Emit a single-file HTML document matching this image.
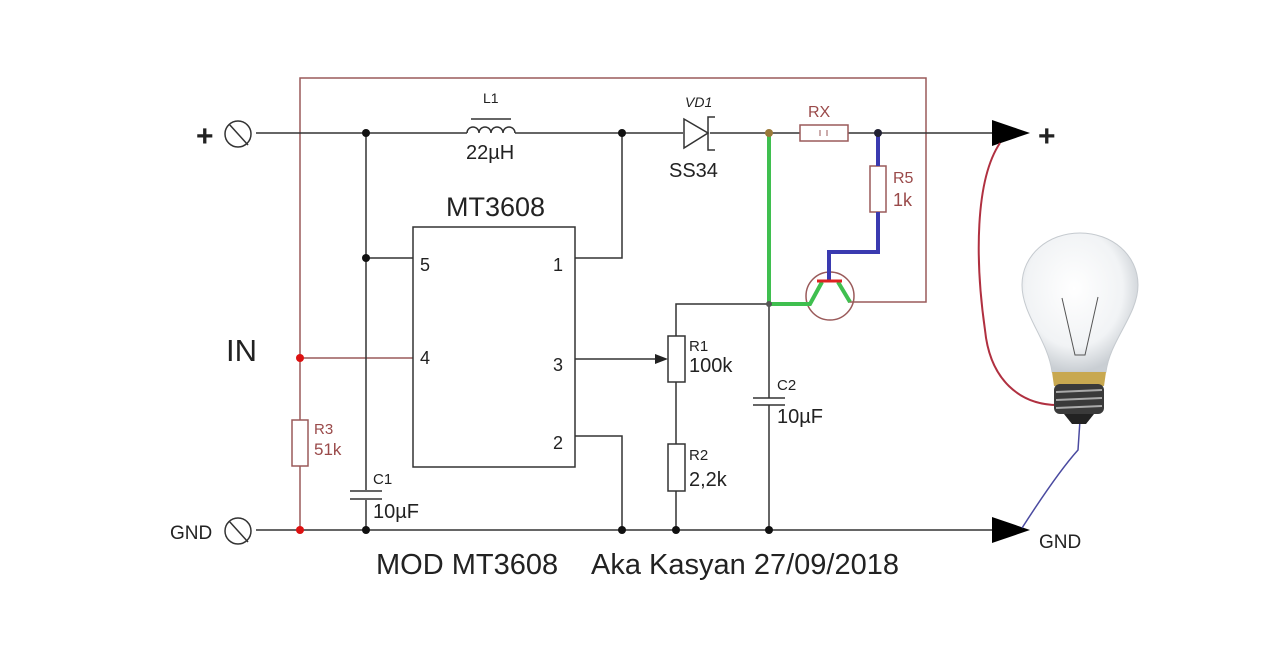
<!DOCTYPE html>
<html><head><meta charset="utf-8"><style>
html,body{margin:0;padding:0;background:#fff;width:1280px;height:663px;overflow:hidden}
text{font-family:"Liberation Sans",sans-serif}
</style></head><body>
<svg width="1280" height="663" viewBox="0 0 1280 663" xmlns="http://www.w3.org/2000/svg">
<defs>
<radialGradient id="gl" cx="0.45" cy="0.4" r="0.6">
<stop offset="0" stop-color="#ffffff"/><stop offset="0.7" stop-color="#f1f3f5"/><stop offset="1" stop-color="#c9ced3"/>
</radialGradient>
</defs>
<g stroke="#9a5a5a" stroke-width="1.5" fill="none">
<polyline points="300,530 300,78 926,78 926,302 848,302"/>
<line x1="300" y1="358" x2="413" y2="358"/>
</g>
<g stroke="#333" stroke-width="1.5" fill="none">
<line x1="256" y1="133" x2="467" y2="133"/>
<line x1="515" y1="133" x2="683" y2="133"/>
<line x1="710" y1="133" x2="800" y2="133"/>
<line x1="848" y1="133" x2="995" y2="133"/>
<line x1="256" y1="530" x2="995" y2="530"/>
<line x1="366" y1="133" x2="366" y2="490"/>
<line x1="366" y1="500" x2="366" y2="530"/>
<line x1="366" y1="258" x2="413" y2="258"/>
<rect x="413" y="227" width="162" height="240"/>
<polyline points="575,258 622,258 622,133"/>
<polyline points="575,436 622,436 622,530"/>
<line x1="575" y1="359" x2="660" y2="359"/>
<polyline points="676,336 676,304 769,304"/>
<line x1="676" y1="382" x2="676" y2="444"/>
<line x1="676" y1="491" x2="676" y2="530"/>
<line x1="769" y1="304" x2="769" y2="398"/>
<line x1="769" y1="405" x2="769" y2="530"/>
<line x1="753" y1="398" x2="785" y2="398"/><line x1="753" y1="405" x2="785" y2="405"/>
<line x1="350" y1="491" x2="382" y2="491"/><line x1="350" y1="499" x2="382" y2="499"/>
<path d="M467,133 a6,6 0 0 1 12,0 a6,6 0 0 1 12,0 a6,6 0 0 1 12,0 a6,6 0 0 1 12,0"/>
<line x1="471" y1="119" x2="511" y2="119"/>
<circle cx="238" cy="134" r="13"/><line x1="229" y1="124" x2="248" y2="145"/>
<circle cx="238" cy="531" r="13"/><line x1="229" y1="521" x2="248" y2="542"/>
<path d="M684,119 L684,148 L708,133 Z"/>
<polyline points="715,117 708,117 708,150 715,150"/>
</g>
<rect x="668" y="336" width="17" height="46" fill="#fff" stroke="#333" stroke-width="1.5"/>
<rect x="668" y="444" width="17" height="47" fill="#fff" stroke="#333" stroke-width="1.5"/>
<path d="M655,354 L668,359 L655,364 Z" fill="#222"/>
<rect x="292" y="420" width="16" height="46" fill="#fff" stroke="#9a5a5a" stroke-width="1.5"/>
<rect x="800" y="125" width="48" height="16" fill="#fff" stroke="#9a5a5a" stroke-width="1.5"/>
<line x1="820" y1="130" x2="820" y2="136" stroke="#9a5a5a"/><line x1="827" y1="130" x2="827" y2="136" stroke="#9a5a5a"/>
<rect x="870" y="166" width="16" height="46" fill="#fff" stroke="#9a5a5a" stroke-width="1.5"/>
<circle cx="830" cy="296" r="24" fill="none" stroke="#9a5a5a" stroke-width="1.5"/>
<polyline points="878,133 878,166" stroke="#3a3ab0" stroke-width="4" fill="none"/>
<polyline points="878,212 878,252 829,252 829,281" stroke="#3a3ab0" stroke-width="4" fill="none"/>
<polyline points="769,133 769,304 810,304 822,282" stroke="#3fbf4f" stroke-width="4" fill="none"/>
<polyline points="838,282 850,302" stroke="#3fbf4f" stroke-width="4" fill="none"/>
<line x1="817" y1="281" x2="842" y2="281" stroke="#d22" stroke-width="3"/>
<g fill="#111"><circle cx="366" cy="133" r="4"/><circle cx="366" cy="258" r="4"/><circle cx="622" cy="133" r="4"/><circle cx="366" cy="530" r="4"/><circle cx="622" cy="530" r="4"/><circle cx="676" cy="530" r="4"/><circle cx="769" cy="530" r="4"/><circle cx="878" cy="133" r="4" fill="#223"/></g>
<circle cx="769" cy="133" r="4" fill="#9a7a3a"/><circle cx="769" cy="304" r="3" fill="#555"/>
<circle cx="300" cy="358" r="4" fill="#d11"/><circle cx="300" cy="530" r="4" fill="#d11"/>
<path d="M992,120 L1030,133 L992,146 Z" fill="#000"/>
<path d="M992,517 L1030,530 L992,543 Z" fill="#000"/>
<path d="M1000,143 C975,180 975,260 985,330 C990,380 1020,405 1058,405" stroke="#b03040" stroke-width="2" fill="none"/>
<path d="M1080,420 L1078,450 C1060,470 1040,500 1022,528" stroke="#4a4aa0" stroke-width="1.5" fill="none"/>
<path d="M1052,372 C1048,340 1022,315 1022,285 C1022,255 1048,233 1080,233 C1112,233 1138,255 1138,285 C1138,315 1110,340 1106,372 Z" fill="url(#gl)" stroke="#c5cacf"/>
<path d="M1062,298 L1075,355 L1085,355 L1098,297" stroke="#555" fill="none"/>
<path d="M1052,372 L1106,372 L1104,386 L1054,386 Z" fill="#c8a850"/>
<rect x="1054" y="384" width="50" height="30" rx="6" fill="#3a3a3a"/>
<g stroke="#aaa" stroke-width="2"><line x1="1056" y1="392" x2="1102" y2="390"/><line x1="1056" y1="400" x2="1102" y2="398"/><line x1="1056" y1="408" x2="1102" y2="406"/></g>
<path d="M1064,414 L1094,414 L1086,424 L1072,424 Z" fill="#222"/>
<g fill="#222">
<text x="196" y="146" font-size="30" font-weight="bold">+</text>
<text x="1038" y="146" font-size="30" font-weight="bold">+</text>
<text x="170" y="539" font-size="19">GND</text>
<text x="1039" y="548" font-size="19">GND</text>
<text x="226" y="361" font-size="31">IN</text>
<text x="483" y="103" font-size="14">L1</text>
<text x="466" y="159" font-size="20">22µH</text>
<text x="446" y="216" font-size="27">MT3608</text>
<text x="685" y="107" font-size="14" font-style="italic">VD1</text>
<text x="669" y="177" font-size="20">SS34</text>
<text x="420" y="271" font-size="18">5</text>
<text x="420" y="364" font-size="18">4</text>
<text x="553" y="271" font-size="18">1</text>
<text x="553" y="371" font-size="18">3</text>
<text x="553" y="449" font-size="18">2</text>
<text x="689" y="351" font-size="15">R1</text>
<text x="689" y="372" font-size="20">100k</text>
<text x="689" y="460" font-size="15">R2</text>
<text x="689" y="486" font-size="20">2,2k</text>
<text x="777" y="390" font-size="15">C2</text>
<text x="777" y="423" font-size="20">10µF</text>
<text x="373" y="484" font-size="15">C1</text>
<text x="373" y="518" font-size="20">10µF</text>
<text x="376" y="574" font-size="29">MOD MT3608</text>
<text x="591" y="574" font-size="29">Aka Kasyan 27/09/2018</text>
</g>
<g fill="#9a4a4a">
<text x="314" y="434" font-size="15">R3</text>
<text x="314" y="455" font-size="17">51k</text>
<text x="808" y="117" font-size="16">RX</text>
<text x="893" y="183" font-size="16">R5</text>
<text x="893" y="206" font-size="18">1k</text>
</g>
</svg>
</body></html>
